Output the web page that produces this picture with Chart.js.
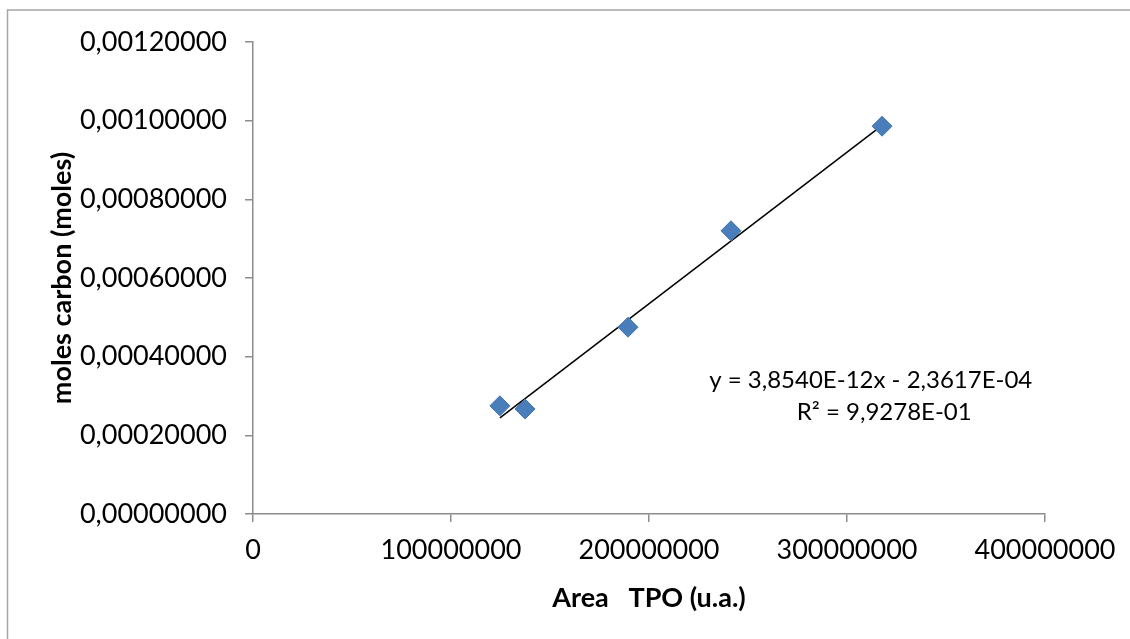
<!DOCTYPE html>
<html>
<head>
<meta charset="utf-8">
<script src="https://cdn.jsdelivr.net/npm/chart.js@4/dist/chart.umd.min.js"></script>
<style>
  html, body { margin: 0; padding: 0; background: #fff; }
  #wrap { width: 1130px; height: 639px; position: relative; }
</style>
</head>
<body>
<div id="wrap"><canvas id="chart" width="1130" height="639"></canvas></div>
<script>
// values
const areaTPO = [124700000, 137400000, 189400000, 241400000, 317700000];
const molesCarbon = [0.000275, 0.000267, 0.000475, 0.000720, 0.000986];

// Excel linear trendline as printed on the chart
const slope = 3.854e-12;
const intercept = -2.3617e-4;
const eqLines = ["y = 3,8540E-12x - 2,3617E-04", "R² = 9,9278E-01"];

const xMin = Math.min(...areaTPO);
const xMax = Math.max(...areaTPO);
const trend = [
  { x: xMin, y: slope * xMin + intercept },
  { x: xMax, y: slope * xMax + intercept },
];

const FONT = "Lato, 'Open Sans', sans-serif";
const axisGrey = "#8c8c8c";

const frame = {
  id: "frame",
  beforeDraw(chart) {
    const ctx = chart.ctx;
    ctx.save();
    ctx.strokeStyle = "#a6a6a6";
    ctx.lineWidth = 1.5;
    ctx.beginPath();
    ctx.moveTo(7.5, 639);
    ctx.lineTo(7.5, 10);
    ctx.lineTo(1130, 10);
    ctx.stroke();
    ctx.restore();
  },
  afterDraw(chart) {
    const ctx = chart.ctx;
    const a = chart.chartArea;
    ctx.save();
    ctx.fillStyle = "#000";
    ctx.font = "24px " + FONT;
    ctx.textAlign = "center";
    ctx.textBaseline = "middle";
    ctx.fillText(eqLines[0], a.left + 0.780 * (a.right - a.left), a.top + 0.716 * (a.bottom - a.top));
    ctx.fillText(eqLines[1], a.left + 0.797 * (a.right - a.left), a.top + 0.784 * (a.bottom - a.top));
    ctx.restore();
  },
};

new Chart(document.getElementById("chart"), {
  type: "scatter",
  data: {
    datasets: [
      {
        label: "moles carbon",
        data: areaTPO.map((x, i) => ({ x: x, y: molesCarbon[i] })),
        pointStyle: "rectRot",
        pointRadius: 10,
        backgroundColor: "#4a7ebb",
        borderColor: "#4174b0",
        borderWidth: 1,
        order: 1,
      },
      {
        label: "trend",
        type: "line",
        data: trend,
        borderColor: "#000",
        borderWidth: 1.5,
        pointRadius: 0,
        fill: false,
        order: 2,
      },
    ],
  },
  options: {
    responsive: false,
    animation: false,
    layout: { padding: { top: 42, right: 85, left: 0, bottom: 0 } },
    plugins: {
      legend: { display: false },
      tooltip: { enabled: false },
    },
    scales: {
      x: {
        type: "linear",
        min: 0,
        max: 400000000,
        ticks: {
          stepSize: 100000000,
          color: "#000",
          font: { family: FONT, size: 27 },
          padding: 12,
          maxRotation: 0,
          callback: (v) => String(v),
        },
        grid: { drawOnChartArea: false, tickLength: 8, color: axisGrey, lineWidth: 1.5 },
        border: { color: axisGrey, width: 1.5 },
        title: {
          display: true,
          text: "Area   TPO (u.a.)",
          color: "#000",
          font: { family: FONT, size: 27, weight: "bold" },
          padding: { top: 4, bottom: 25 },
        },
        afterFit: (scale) => { scale.height = 125; },
      },
      y: {
        type: "linear",
        min: 0,
        max: 0.0012,
        ticks: {
          stepSize: 0.0002,
          color: "#000",
          font: { family: FONT, size: 27 },
          padding: 18,
          callback: (v) => v.toFixed(8).replace(".", ","),
        },
        grid: { drawOnChartArea: false, tickLength: 8, color: axisGrey, lineWidth: 1.5 },
        border: { color: axisGrey, width: 1.5 },
        title: {
          display: true,
          text: "moles carbon (moles)",
          color: "#000",
          font: { family: FONT, size: 27, weight: "bold" },
          padding: { top: 46, bottom: 4 },
        },
        afterFit: (scale) => { scale.width = 253; },
      },
    },
  },
  plugins: [frame],
});
</script>
</body>
</html>
